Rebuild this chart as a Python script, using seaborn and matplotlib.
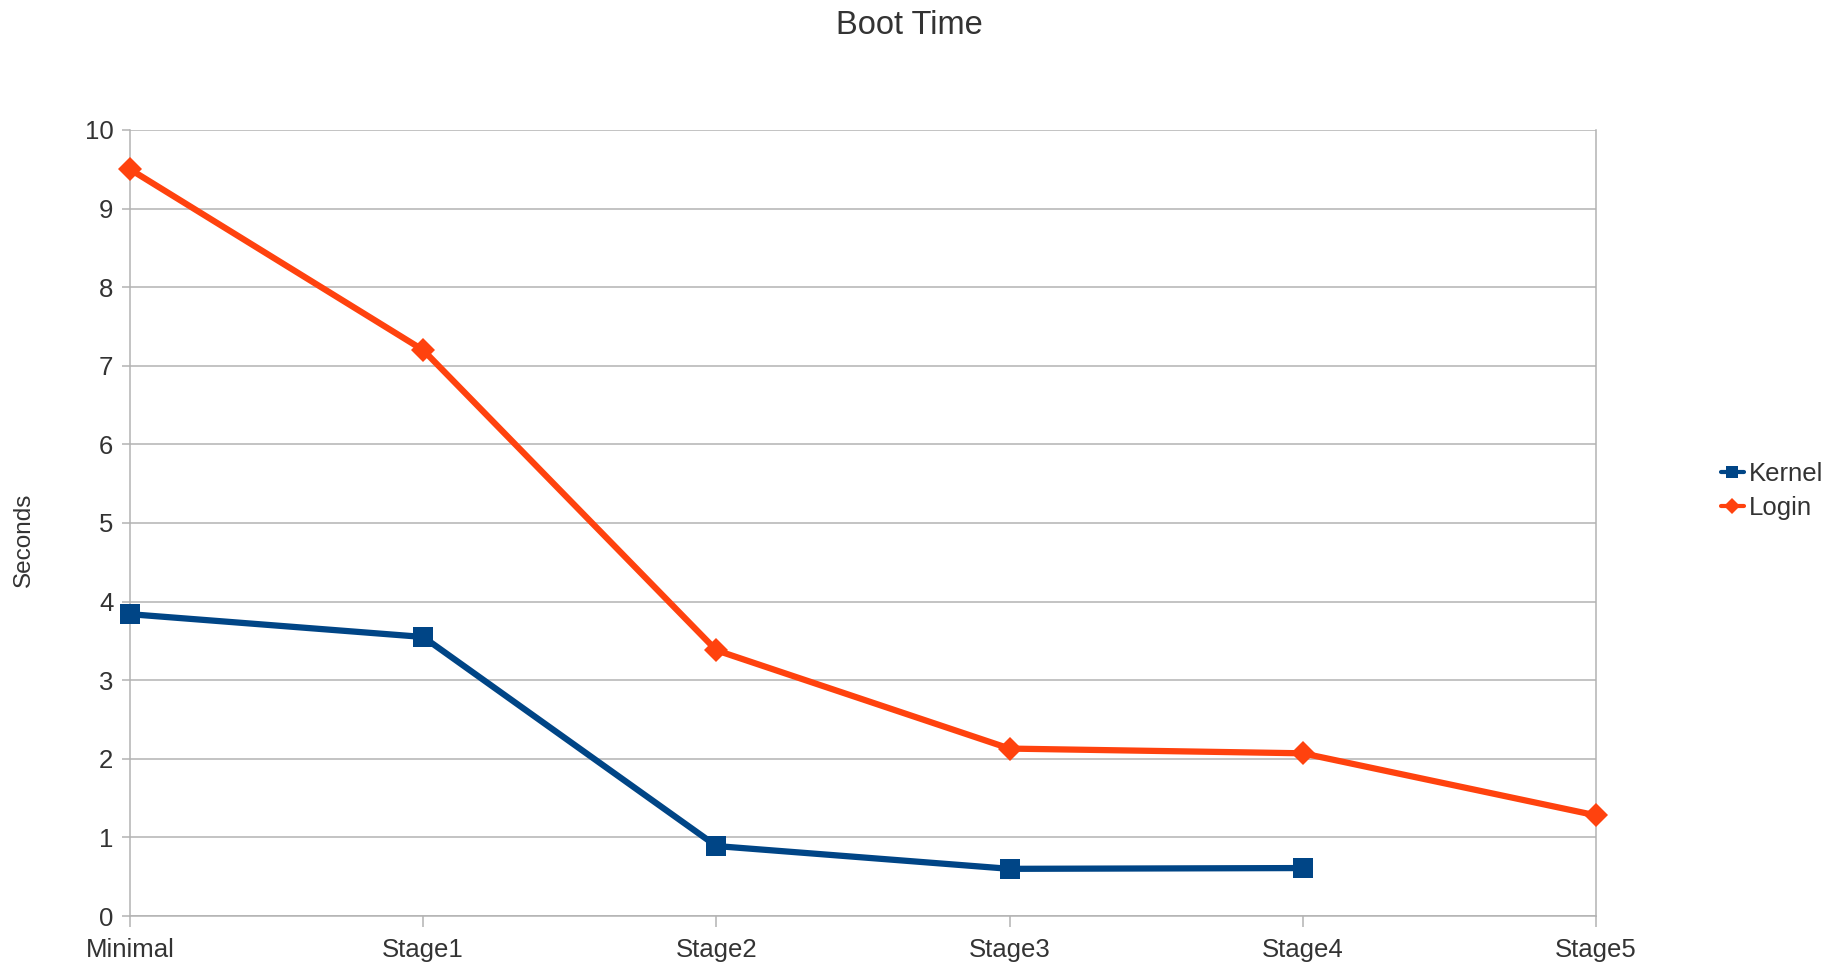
import matplotlib
matplotlib.use("Agg")
import matplotlib.pyplot as plt
import seaborn as sns
import numpy as np
import pandas as pd
from matplotlib.lines import Line2D

stages = ["Minimal", "Stage1", "Stage2", "Stage3", "Stage4", "Stage5"]
kernel = [3.84, 3.55, 0.89, 0.60, 0.61, np.nan]
login = [9.5, 7.2, 3.38, 2.13, 2.07, 1.28]
y_ticks = [0, 1, 2, 3, 4, 5, 6, 7, 8, 9, 10]

KERNEL_C = "#004586"
LOGIN_C = "#ff420e"
GRID_C = "#b3b3b3"
TEXT_C = "#333333"

sns.set_theme(style="white")
plt.rcParams["font.family"] = ["Liberation Sans", "DejaVu Sans"]

df = pd.DataFrame({
    "pos": list(range(len(stages))) * 2,
    "Seconds": kernel + login,
    "series": ["Kernel"] * len(stages) + ["Login"] * len(stages),
}).dropna()

W, H = 1841, 965
fig = plt.figure(figsize=(W / 100, H / 100), dpi=100)
ax = fig.add_axes([130 / W, 1 - 916 / H, (1596 - 130) / W, (916 - 130) / H])

sns.lineplot(
    data=df, x="pos", y="Seconds", hue="series", style="series",
    palette={"Kernel": KERNEL_C, "Login": LOGIN_C},
    markers={"Kernel": "s", "Login": "D"}, dashes=False,
    linewidth=4.5, markersize=12, markeredgewidth=0,
    sort=False, ax=ax, legend=False, clip_on=False, zorder=3,
)
for ln in ax.lines:
    if ln.get_marker() == "s":
        ln.set_markersize(14)

ax.set_xlim(0, len(stages) - 1)
ax.set_ylim(0, 10)
ax.set_xticks(range(len(stages)))
ax.set_xticklabels(stages)
ax.set_yticks(y_ticks)
ax.set_xlabel("")
ax.set_ylabel("")

ax.grid(axis="y", color=GRID_C, linewidth=1.1)
ax.set_axisbelow(True)
for side in ["left", "bottom", "right"]:
    ax.spines[side].set_color(GRID_C)
    ax.spines[side].set_linewidth(1.1)
ax.spines["top"].set_visible(False)
ax.tick_params(axis="x", colors=GRID_C, length=8, width=1.1, labelsize=18.5,
               labelcolor=TEXT_C, pad=8, bottom=True)
ax.tick_params(axis="y", colors=GRID_C, length=6, width=1.1, labelsize=18.5,
               labelcolor=TEXT_C, pad=6, left=True)

fig.text(909 / W, 1 - 25 / H, "Boot Time",
         ha="center", va="center", fontsize=23.5, color=TEXT_C)
fig.text(24 / W, 1 - 540 / H, "Seconds", rotation=90,
         ha="center", va="center", fontsize=17.5, color=TEXT_C)

handles = [
    Line2D([], [], color=KERNEL_C, marker="s", linewidth=3, markersize=9, markeredgewidth=0),
    Line2D([], [], color=LOGIN_C, marker="D", linewidth=3, markersize=8, markeredgewidth=0),
]
fig.legend(handles, ["Kernel", "Login"], loc="center left",
           bbox_to_anchor=(1708 / W, 1 - 491 / H), frameon=False,
           fontsize=18.5, handlelength=0.9, handletextpad=0.2, labelspacing=0.4,
           borderpad=0, labelcolor=TEXT_C)

fig.savefig("out.png", dpi=100, facecolor="white")
